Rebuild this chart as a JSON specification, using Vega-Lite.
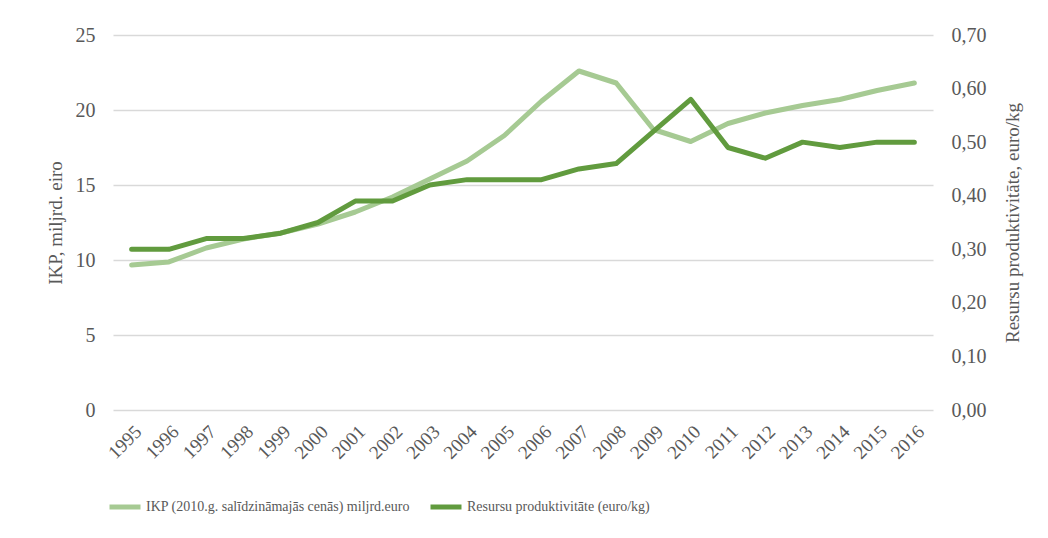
{
  "$schema": "https://vega.github.io/schema/vega-lite/v6.json",
  "width": 820,
  "height": 375,
  "autosize": {"type": "none"},
  "padding": {"left": 113, "top": 35, "right": 115, "bottom": 128},
  "background": "white",
  "config": {
    "view": {"stroke": null},
    "font": "Liberation Serif",
    "axis": {
      "labelFont": "Liberation Serif",
      "titleFont": "Liberation Serif",
      "labelColor": "#595959",
      "titleColor": "#595959",
      "titleFontWeight": "normal",
      "gridColor": "#d9d9d9",
      "gridWidth": 1.5,
      "domain": false,
      "ticks": false
    }
  },
  "data": {
    "values": [
      {"year": "1995", "ikp": 9.67, "res": 0.30},
      {"year": "1996", "ikp": 9.87, "res": 0.30},
      {"year": "1997", "ikp": 10.8, "res": 0.32},
      {"year": "1998", "ikp": 11.4, "res": 0.32},
      {"year": "1999", "ikp": 11.8, "res": 0.33},
      {"year": "2000", "ikp": 12.4, "res": 0.35},
      {"year": "2001", "ikp": 13.2, "res": 0.39},
      {"year": "2002", "ikp": 14.2, "res": 0.39},
      {"year": "2003", "ikp": 15.4, "res": 0.42},
      {"year": "2004", "ikp": 16.6, "res": 0.43},
      {"year": "2005", "ikp": 18.3, "res": 0.43},
      {"year": "2006", "ikp": 20.6, "res": 0.43},
      {"year": "2007", "ikp": 22.6, "res": 0.45},
      {"year": "2008", "ikp": 21.8, "res": 0.46},
      {"year": "2009", "ikp": 18.7, "res": 0.52},
      {"year": "2010", "ikp": 17.9, "res": 0.58},
      {"year": "2011", "ikp": 19.1, "res": 0.49},
      {"year": "2012", "ikp": 19.8, "res": 0.47},
      {"year": "2013", "ikp": 20.3, "res": 0.50},
      {"year": "2014", "ikp": 20.7, "res": 0.49},
      {"year": "2015", "ikp": 21.3, "res": 0.50},
      {"year": "2016", "ikp": 21.8, "res": 0.50}
    ]
  },
  "encoding": {
    "x": {
      "field": "year",
      "type": "ordinal",
      "scale": {"type": "point", "padding": 0.5},
      "axis": {
        "title": null,
        "labelAngle": -45,
        "labelFontSize": 19,
        "labelPadding": 12,
        "grid": false
      }
    }
  },
  "layer": [
    {
      "mark": {"type": "line", "strokeWidth": 5, "strokeCap": "round", "strokeJoin": "round"},
      "encoding": {
        "y": {
          "field": "ikp",
          "type": "quantitative",
          "scale": {"domain": [0, 25]},
          "axis": {
            "values": [0, 5, 10, 15, 20, 25],
            "title": "IKP, miljrd. eiro",
            "labelFontSize": 20,
            "labelPadding": 18,
            "titleFontSize": 19,
            "titleX": -58,
            "titleY": 187.5,
            "titleAngle": -90,
            "titleAlign": "center",
            "titleBaseline": "middle",
            "grid": true
          }
        },
        "color": {
          "datum": "IKP (2010.g. salīdzināmajās cenās) miljrd.euro",
          "type": "nominal",
          "scale": {
            "domain": ["IKP (2010.g. salīdzināmajās cenās) miljrd.euro", "Resursu produktivitāte (euro/kg)"],
            "range": ["#a6ca93", "#619b3e"]
          },
          "legend": {
            "title": null,
            "orient": "none",
            "direction": "horizontal",
            "legendX": -6,
            "legendY": 454,
            "symbolType": "stroke",
            "symbolSize": 961,
            "symbolStrokeWidth": 5,
            "labelFont": "Liberation Serif",
            "labelFontSize": 14,
            "labelColor": "#595959",
            "labelOffset": 3,
            "labelLimit": 400,
            "columnPadding": 10
          }
        }
      }
    },
    {
      "mark": {"type": "line", "strokeWidth": 5, "strokeCap": "round", "strokeJoin": "round"},
      "encoding": {
        "y": {
          "field": "res",
          "type": "quantitative",
          "scale": {"domain": [0, 0.7]},
          "axis": {
            "orient": "right",
            "values": [0, 0.1, 0.2, 0.3, 0.4, 0.5, 0.6, 0.7],
            "labelExpr": "replace(format(datum.value, '.2f'), '.', ',')",
            "title": "Resursu produktivitāte, euro/kg",
            "labelFontSize": 20,
            "labelPadding": 18,
            "titleFontSize": 19,
            "titleX": 79,
            "titleY": 187.5,
            "titleAngle": -90,
            "titleAlign": "center",
            "titleBaseline": "middle",
            "grid": false
          }
        },
        "color": {
          "datum": "Resursu produktivitāte (euro/kg)",
          "type": "nominal"
        }
      }
    }
  ],
  "resolve": {"scale": {"y": "independent"}}
}
